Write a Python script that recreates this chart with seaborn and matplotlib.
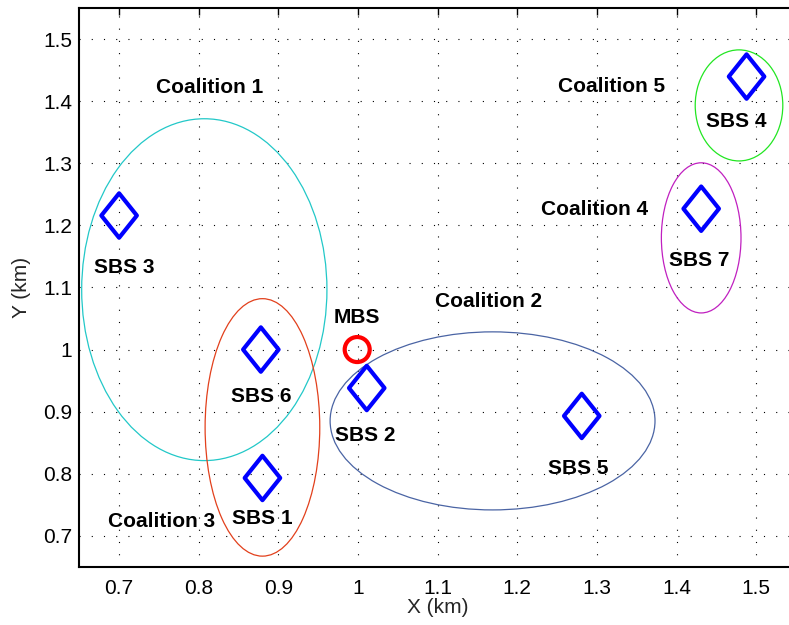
import numpy as np
import pandas as pd
import matplotlib
matplotlib.use("Agg")
import matplotlib.pyplot as plt
from matplotlib.patches import Ellipse
from matplotlib.path import Path
import seaborn as sns

# ---- data ----
sbs_names = ["SBS 1", "SBS 2", "SBS 3", "SBS 4", "SBS 5", "SBS 6", "SBS 7"]
sbs_x = [0.880, 1.011, 0.700, 1.488, 1.281, 0.878, 1.431]
sbs_y = [0.793, 0.938, 1.216, 1.440, 0.893, 1.000, 1.227]
sbs_label_x = [0.880, 1.009, 0.706, 1.475, 1.276, 0.878, 1.428]
sbs_label_y = [0.728, 0.862, 1.132, 1.367, 0.809, 0.924, 1.144]

mbs_x = [0.999]
mbs_y = [1.000]
mbs_label = "MBS"
mbs_label_xy = (0.999, 1.051)

coal_names = ["Coalition 1", "Coalition 2", "Coalition 3", "Coalition 4", "Coalition 5"]
coal_cx = [0.807, 1.169, 0.880, 1.431, 1.4785]
coal_cy = [1.0965, 0.885, 0.8745, 1.180, 1.3935]
coal_w = [0.308, 0.408, 0.144, 0.100, 0.110]
coal_h = [0.551, 0.287, 0.415, 0.242, 0.179]
coal_colors = ["#22c8c8", "#4a64a4", "#e2401c", "#c020c0", "#22e622"]
coal_label_x = [0.814, 1.164, 0.7535, 1.297, 1.318]
coal_label_y = [1.422, 1.078, 0.7226, 1.225, 1.424]

ticks = [0.7, 0.8, 0.9, 1.0, 1.1, 1.2, 1.3, 1.4, 1.5]
tick_labels = ["0.7", "0.8", "0.9", "1", "1.1", "1.2", "1.3", "1.4", "1.5"]

# ---- style ----
sns.set_style("white")
plt.rcParams["font.family"] = ["Liberation Sans", "DejaVu Sans"]

fig = plt.figure(figsize=(7.89, 6.25), dpi=100)
ax = fig.add_axes([0.1005, 0.0933, 1.0088 - 0.1005, 0.9867 - 0.0933])

# coalitions (ellipses)
for cx, cy, w, h, c in zip(coal_cx, coal_cy, coal_w, coal_h, coal_colors):
    ax.add_patch(Ellipse((cx, cy), w, h, fill=False, edgecolor=c, lw=0.9, zorder=2))

# diamond marker (taller than wide)
diamond = Path([(-0.8, 0.0), (0.0, 1.0), (0.8, 0.0), (0.0, -1.0), (-0.8, 0.0)],
               [Path.MOVETO, Path.LINETO, Path.LINETO, Path.LINETO, Path.CLOSEPOLY])

df_sbs = pd.DataFrame({"x": sbs_x, "y": sbs_y, "name": sbs_names})
sns.scatterplot(data=df_sbs, x="x", y="y", marker=diamond, s=32 ** 2, ax=ax,
                legend=False, zorder=4)
coll = ax.collections[-1]
coll.set_facecolor("none")
coll.set_edgecolor("#0000ff")
coll.set_linewidth(3.0)

df_mbs = pd.DataFrame({"x": mbs_x, "y": mbs_y})
sns.scatterplot(data=df_mbs, x="x", y="y", marker="o", s=18 ** 2, ax=ax,
                legend=False, zorder=4)
coll = ax.collections[-1]
coll.set_facecolor("none")
coll.set_edgecolor("#ff0000")
coll.set_linewidth(3.0)

# labels
txt_kw = dict(ha="center", va="center", fontsize=15, fontweight="bold", color="black", zorder=5)
for n, lx, ly in zip(sbs_names, sbs_label_x, sbs_label_y):
    ax.text(lx, ly, n, **txt_kw)
ax.text(mbs_label_xy[0], mbs_label_xy[1], mbs_label, **txt_kw)
for n, lx, ly in zip(coal_names, coal_label_x, coal_label_y):
    ax.text(lx, ly, n, **txt_kw)

ax.set_xlim(0.65, 1.55)
ax.set_ylim(0.65, 1.55)
ax.set_xticks(ticks)
ax.set_xticklabels(tick_labels)
ax.set_yticks(ticks)
ax.set_yticklabels(tick_labels)
ax.tick_params(axis="both", direction="in", length=5, width=1, top=True, right=True,
               labelsize=15, colors="black")
ax.tick_params(axis="x", pad=9)
ax.tick_params(axis="y", pad=5)
ax.grid(True, color="black", linestyle=(0, (1, 10)), lw=0.8)
for sp in ax.spines.values():
    sp.set_visible(True)
    sp.set_color("black")
    sp.set_linewidth(1.5)

ax.set_xlabel("X (km)", fontsize=15, labelpad=0)
ax.set_ylabel("Y (km)", fontsize=15, labelpad=9)

fig.savefig("out.png", dpi=100)
